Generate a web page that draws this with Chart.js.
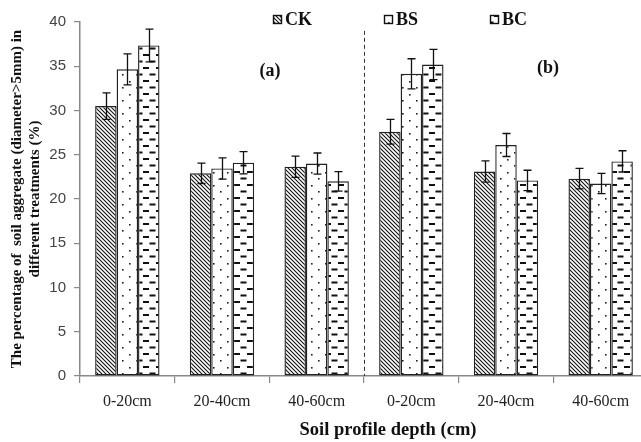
<!DOCTYPE html>
<html>
<head>
<meta charset="utf-8">
<script src="https://cdn.jsdelivr.net/npm/chart.js@4.4.1/dist/chart.umd.min.js"></script>
<style>
  html, body { margin: 0; padding: 0; background: #fff; overflow: hidden; }
  #c { display: block; }
</style>
</head>
<body>
<canvas id="c" width="660" height="442"></canvas>
<script>
// depth categories, part (a) then part (b)
const depths = ["0-20cm", "20-40cm", "40-60cm", "0-20cm", "20-40cm", "40-60cm"];
const seriesNames = ["CK", "BS", "BC"];

const ckValues = [30.5, 22.9, 23.65, 27.6, 23.1, 22.3];
const bsValues = [34.65, 23.45, 24.0, 34.15, 26.1, 21.75];
const bcValues = [37.35, 24.1, 22.0, 35.2, 22.1, 24.25];

// error bar half-lengths
const ckErr = [1.5, 1.15, 1.2, 1.4, 1.2, 1.15];
const bsErr = [1.75, 1.2, 1.2, 1.7, 1.3, 1.15];
const bcErr = [1.85, 1.25, 1.1, 1.7, 1.15, 1.2];

const yTicks = [0, 5, 10, 15, 20, 25, 30, 35, 40];
const panelLabels = ["(a)", "(b)"];

function makePattern(kind) {
  const c = document.createElement("canvas");
  const g = c.getContext("2d");
  if (kind === "hatch") {
    c.width = 4; c.height = 4;
    g.fillStyle = "#fff"; g.fillRect(0, 0, 4, 4);
    g.strokeStyle = "#111"; g.lineWidth = 1.1;
    g.beginPath();
    g.moveTo(-1, -1); g.lineTo(5, 5);
    g.moveTo(-1, 3); g.lineTo(1, 5);
    g.moveTo(3, -1); g.lineTo(5, 1);
    g.stroke();
  } else if (kind === "dots") {
    c.width = 14; c.height = 13;
    g.fillStyle = "#fff"; g.fillRect(0, 0, 14, 13);
    g.fillStyle = "#222";
    g.fillRect(3, 3, 1.6, 1.6);
    g.fillRect(10, 9, 1.6, 1.6);
  } else {
    c.width = 13; c.height = 13;
    g.fillStyle = "#fff"; g.fillRect(0, 0, 13, 13);
    g.fillStyle = "#111";
    g.fillRect(0, 2, 6, 2);
    g.fillRect(6.5, 8.5, 6, 2);
  }
  return g.createPattern(c, "repeat");
}

const patterns = [makePattern("hatch"), makePattern("dots"), makePattern("dash")];
const allValues = [ckValues, bsValues, bcValues];
const allErr = [ckErr, bsErr, bcErr];

const errorBars = {
  id: "errorBars",
  afterDatasetsDraw(chart) {
    const ctx = chart.ctx;
    const y = chart.scales.y;
    ctx.save();
    ctx.strokeStyle = "#111";
    ctx.lineWidth = 1.3;
    chart.data.datasets.forEach((ds, di) => {
      const meta = chart.getDatasetMeta(di);
      meta.data.forEach((bar, i) => {
        const v = ds.data[i], e = allErr[di][i];
        const top = y.getPixelForValue(v + e);
        const bot = y.getPixelForValue(v - e);
        const x = Math.round(bar.x) + 0.5;
        ctx.beginPath();
        ctx.moveTo(x, top); ctx.lineTo(x, bot);
        ctx.moveTo(x - 4, top); ctx.lineTo(x + 4, top);
        ctx.moveTo(x - 4, bot); ctx.lineTo(x + 4, bot);
        ctx.stroke();
      });
    });
    ctx.restore();
  }
};

const decor = {
  id: "decor",
  beforeDatasetsDraw(chart) {
    // dashed divider between (a) and (b)
    const ctx = chart.ctx;
    const x = Math.round(chart.scales.x.getPixelForValue(2.5)) + 0.5;
    ctx.save();
    ctx.strokeStyle = "#333";
    ctx.lineWidth = 1;
    ctx.setLineDash([4, 3]);
    ctx.beginPath();
    ctx.moveTo(x, chart.scales.y.getPixelForValue(39));
    ctx.lineTo(x, chart.chartArea.bottom);
    ctx.stroke();
    ctx.restore();
  },
  afterDraw(chart) {
    const ctx = chart.ctx;
    const area = chart.chartArea;
    ctx.save();
    ctx.fillStyle = "#111";
    ctx.textAlign = "center";
    ctx.textBaseline = "middle";

    // panel labels
    ctx.font = "bold 18px 'Liberation Serif'";
    const ya = chart.scales.y.getPixelForValue(34.4);
    ctx.fillText(panelLabels[0], 270, ya);
    ctx.fillText(panelLabels[1], 548, ya - 3);

    // x title
    ctx.font = "bold 18.5px 'Liberation Serif'";
    ctx.fillText("Soil profile depth (cm)", 388, 430);

    // y title
    const cy = (area.top + area.bottom) / 2;
    ctx.save();
    ctx.translate(17, cy);
    ctx.rotate(-Math.PI / 2);
    ctx.font = "bold 15px 'Liberation Serif'";
    ctx.fillText("The percentage of  soil aggregate (diameter>5mm) in", 0, 0);
    ctx.fillText("different treatments (%)", 0, 18);
    ctx.restore();

    // legend
    const legendX = [273, 384, 490];
    ctx.textAlign = "left";
    ctx.font = "bold 18px 'Liberation Serif'";
    seriesNames.forEach((name, i) => {
      const bx = legendX[i];
      ctx.fillStyle = patterns[i];
      ctx.fillRect(bx, 15, 8, 8);
      ctx.strokeStyle = "#111";
      ctx.lineWidth = 1.4;
      ctx.strokeRect(bx + 0.5, 15.5, 8, 8);
      ctx.fillStyle = "#111";
      ctx.fillText(name, bx + 12, 20);
    });
    ctx.restore();
  }
};

new Chart(document.getElementById("c"), {
  type: "bar",
  data: {
    labels: depths,
    datasets: seriesNames.map((name, i) => ({
      label: name,
      data: allValues[i],
      backgroundColor: patterns[i],
      borderColor: "#222",
      borderWidth: 1.4,
      borderSkipped: false,
      barPercentage: 1.0,
      categoryPercentage: 0.68
    }))
  },
  options: {
    responsive: false,
    animation: false,
    devicePixelRatio: 1,
    layout: { padding: { top: 22, right: 12, left: 0, bottom: 0 } },
    plugins: { legend: { display: false }, tooltip: { enabled: false } },
    scales: {
      x: {
        grid: { display: true, drawOnChartArea: false, offset: true, tickLength: 7, color: "#888", lineWidth: 1.2 },
        border: { color: "#888", width: 1.5 },
        ticks: { color: "#222", padding: 9, font: { family: "'Liberation Serif'", size: 16 } },
        afterFit(s) { s.height = 66; }
      },
      y: {
        min: 0,
        max: 40,
        afterBuildTicks(s) { s.ticks = yTicks.map(v => ({ value: v })); },
        grid: { display: true, drawOnChartArea: false, tickLength: 6, color: "#888", lineWidth: 1.2 },
        border: { color: "#888", width: 1.5 },
        ticks: { color: "#444", padding: 8, font: { family: "'Liberation Sans'", size: 15 } },
        afterFit(s) { s.width = 80; }
      }
    }
  },
  plugins: [errorBars, decor]
});
</script>
</body>
</html>
